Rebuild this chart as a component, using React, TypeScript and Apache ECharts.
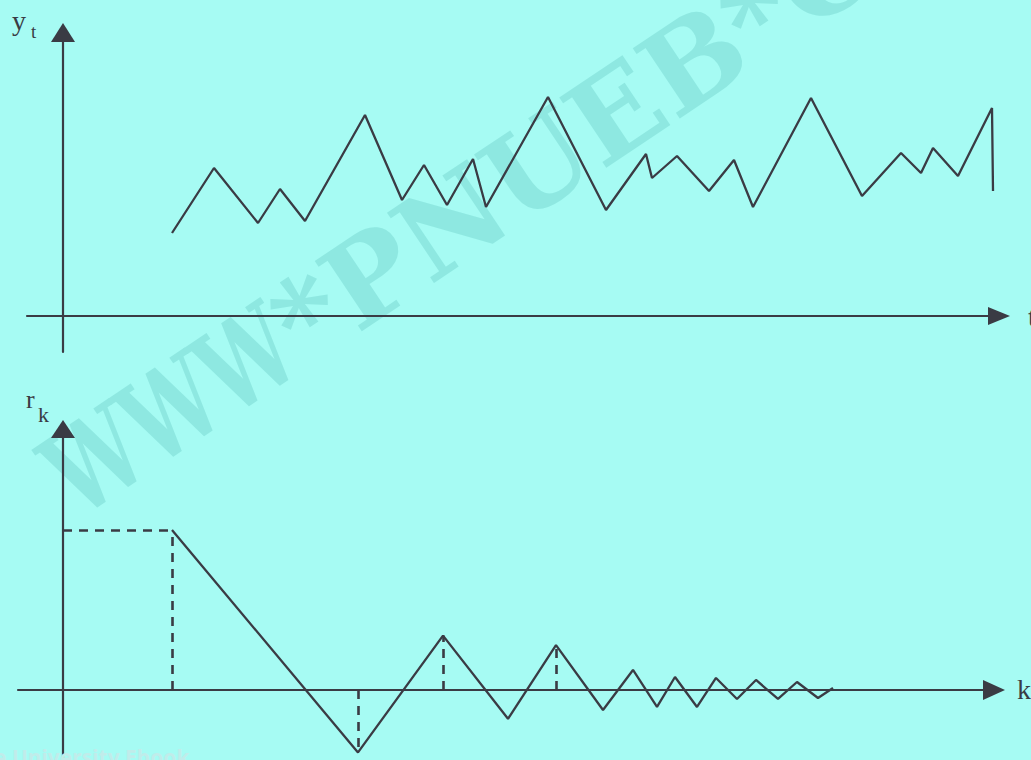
import React, { useEffect, useRef } from 'react';
import * as echarts from 'echarts';

// Top panel: time series y_t (t in arbitrary units)
const ytTime = [10.9, 15.1, 19.5, 21.7, 24.2, 30.2, 33.9, 36.1, 38.4, 41.0, 42.3, 48.5, 54.3, 58.3, 58.9, 61.4, 64.6, 67.1, 69.0, 74.8, 79.9, 83.8, 85.8, 87.0, 89.5, 92.9, 93.0];
const ytValue = [8.3, 14.8, 9.3, 12.7, 9.5, 20.1, 11.6, 15.1, 11.1, 15.7, 10.9, 21.9, 10.6, 16.2, 13.8, 16.0, 12.5, 15.6, 10.9, 21.8, 12.0, 16.3, 14.3, 16.8, 14.0, 20.8, 12.5];

// Bottom panel: correlogram r_k
const rkLag = [10.9, 29.5, 38.0, 44.5, 49.3, 54.0, 57.0, 59.4, 61.2, 63.4, 65.3, 67.4, 69.3, 71.5, 73.4, 75.5, 77.0];
const rkValue = [1.0, -0.39, 0.34, -0.18, 0.28, -0.125, 0.125, -0.106, 0.081, -0.106, 0.075, -0.056, 0.0625, -0.056, 0.05, -0.05, 0.0125];
const dropLineIdx = [0, 1, 2, 4];

const INK = '#3a3b44';
const BG = '#a6fbf3';
const WM = '#8ee8e1';

function axisCommon(arrow: number[]) {
  return {
    type: 'value' as const,
    axisLine: {
      show: true,
      onZero: true,
      symbol: ['none', 'triangle'],
      symbolSize: arrow,
      lineStyle: { color: INK, width: 2.2 },
    },
    axisTick: { show: false },
    axisLabel: { show: false },
    splitLine: { show: false },
  };
}

export default function App() {
  const ref = useRef<HTMLDivElement>(null);
  useEffect(() => {
    document.body.style.margin = '0';
    if (!ref.current) return;
    const chart = echarts.init(ref.current, undefined, { renderer: 'svg' });
    const nameStyle = { fontFamily: '"Liberation Serif", serif', fontSize: 28, color: INK };
    const dashData: any[] = [
      [{ coord: [0, rkValue[0]] }, { coord: [rkLag[0], rkValue[0]] }],
      ...dropLineIdx.map((i) => [{ coord: [rkLag[i], 0] }, { coord: [rkLag[i], rkValue[i]] }]),
    ];
    chart.setOption({
      animation: false,
      backgroundColor: BG,
      grid: [
        { left: 27, right: 32, top: 32.5, bottom: 408, containLabel: false, outerBoundsMode: 'none' },
        { left: 18, right: 37, top: 429, bottom: 0, containLabel: false, outerBoundsMode: 'none' },
      ],
      xAxis: [
        { ...axisCommon([18, 22]), gridIndex: 0, min: -3.6, max: 93.6, name: 't', nameLocation: 'end', nameGap: 29, nameTextStyle: nameStyle },
        { ...axisCommon([20, 22]), gridIndex: 1, min: -4.5, max: 93.1, name: 'k', nameLocation: 'end', nameGap: 23, nameTextStyle: nameStyle },
      ],
      yAxis: [
        { ...axisCommon([24, 19]), gridIndex: 0, min: -3.6, max: 28.35 },
        { ...axisCommon([24, 18]), gridIndex: 1, min: -0.4375, max: 1.631 },
      ],
      graphic: [
        {
          type: 'group',
          x: 284,
          y: 334,
          rotation: 0.59,
          z: -1,
          silent: true,
          children: [
            { type: 'text', x: 0, y: 0, scaleX: 0.7, style: { text: 'WWW', fill: WM, font: 'bold 116px "DejaVu Serif"', textAlign: 'right', textVerticalAlign: 'middle' } },
            { type: 'text', x: 0, y: 0, style: { text: '*PNUEB*COM', fill: WM, font: 'bold 116px "DejaVu Serif"', textAlign: 'left', textVerticalAlign: 'middle' } },
          ],
        },
        { type: 'text', left: 12, top: 6, z: 100, style: { text: 'y', fill: INK, font: '28px "Liberation Serif"' } },
        { type: 'text', left: 31, top: 22, z: 100, style: { text: 't', fill: INK, font: '19px "Liberation Serif"' } },
        { type: 'text', left: 26, top: 386, z: 100, style: { text: 'r', fill: INK, font: '26px "Liberation Serif"' } },
        { type: 'text', left: 38, top: 403, z: 100, style: { text: 'k', fill: INK, font: '22px "Liberation Serif"' } },
        { type: 'text', left: -6, top: 746, z: 100, style: { text: 'e University Ebook', fill: '#c0ecea', font: 'bold 21px "Noto Sans"' } },
      ],
      series: [
        {
          type: 'line',
          xAxisIndex: 0,
          yAxisIndex: 0,
          data: ytTime.map((t, i) => [t, ytValue[i]]),
          showSymbol: false,
          lineStyle: { color: INK, width: 2.3 },
          silent: true,
        },
        {
          type: 'line',
          xAxisIndex: 1,
          yAxisIndex: 1,
          data: rkLag.map((k, i) => [k, rkValue[i]]),
          showSymbol: false,
          lineStyle: { color: INK, width: 2.3 },
          silent: true,
          markLine: {
            silent: true,
            symbol: ['none', 'none'],
            label: { show: false },
            lineStyle: { color: INK, width: 2.6, type: [9, 7] },
            data: dashData,
          },
        },
      ],
    });
    return () => chart.dispose();
  }, []);
  return <div ref={ref} style={{ position: 'absolute', left: 0, top: 0, width: 1031, height: 760 }} />;
}
